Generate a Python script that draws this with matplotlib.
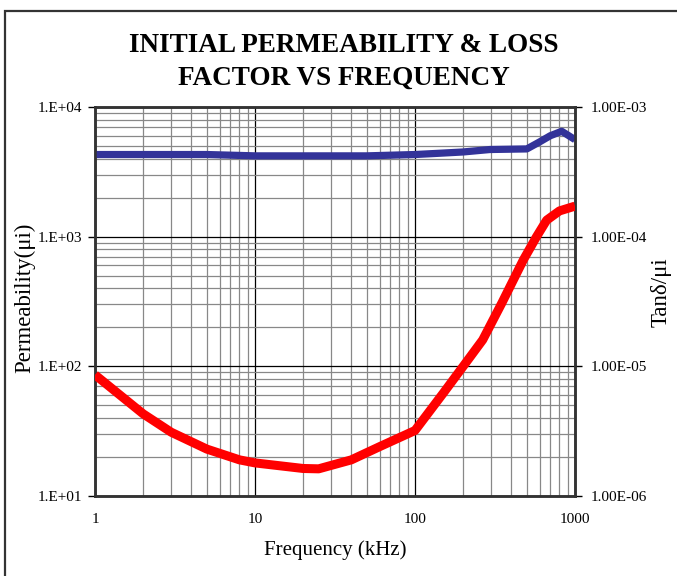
import matplotlib
matplotlib.use("Agg")
import matplotlib.pyplot as plt
from matplotlib.ticker import LogLocator, NullFormatter
from matplotlib.patches import Rectangle
import numpy as np

plt.rcParams['font.family'] = ['Liberation Serif', 'DejaVu Serif']

# Permeability (left axis)
perm_freq = [1, 3, 5, 10, 20, 50, 100, 143, 200, 294, 500, 604, 700, 826, 1000]
perm_vals = [4300, 4300, 4300, 4200, 4200, 4200, 4300, 4400, 4500, 4700, 4750, 5400, 6000, 6500, 5600]

# Tan delta / mu_i (right axis)
loss_freq = [1, 2, 3, 5, 8, 10, 20, 25, 40, 60, 100, 150, 200, 265, 350, 475, 575, 665, 800, 1000]
loss_vals = [8.6e-6, 4.3e-6, 3.1e-6, 2.3e-6, 1.9e-6, 1.8e-6, 1.63e-6, 1.62e-6, 1.9e-6, 2.4e-6,
             3.2e-6, 6.2e-6, 1.0e-5, 1.6e-5, 3.1e-5, 6.6e-5, 1.0e-4, 1.34e-4, 1.58e-4, 1.72e-4]

x_ticks = [1, 10, 100, 1000]
x_tick_labels = ["1", "10", "100", "1000"]
left_ticks = [1e1, 1e2, 1e3, 1e4]
left_tick_labels = ["1.E+01", "1.E+02", "1.E+03", "1.E+04"]
right_ticks = [1e-6, 1e-5, 1e-4, 1e-3]
right_tick_labels = ["1.00E-06", "1.00E-05", "1.00E-04", "1.00E-03"]

W, H = 677, 576
fig = plt.figure(figsize=(W/100, H/100), dpi=100)
ax = fig.add_axes([95/W, 1-496/H, 480/W, 389/H])
ax2 = ax.twinx()

ax.set_xscale('log'); ax.set_yscale('log'); ax2.set_yscale('log')
ax.set_xlim(1, 1000); ax.set_ylim(10, 10000); ax2.set_ylim(1e-6, 1e-3)

subs = np.arange(2, 10)
ax.xaxis.set_minor_locator(LogLocator(base=10, subs=subs))
ax.yaxis.set_minor_locator(LogLocator(base=10, subs=subs))
ax2.yaxis.set_minor_locator(LogLocator(base=10, subs=subs))
ax.xaxis.set_minor_formatter(NullFormatter())
ax.yaxis.set_minor_formatter(NullFormatter())
ax2.yaxis.set_minor_formatter(NullFormatter())

ax.set_xticks(x_ticks); ax.set_xticklabels(x_tick_labels)
ax.set_yticks(left_ticks); ax.set_yticklabels(left_tick_labels)
ax2.set_yticks(right_ticks); ax2.set_yticklabels(right_tick_labels)

ax.grid(which='minor', color='#888888', linewidth=0.9)
ax.grid(which='major', color='#000000', linewidth=0.9)
ax.set_axisbelow(True)

ax.tick_params(which='minor', length=0)
ax2.tick_params(which='minor', length=0)
ax.tick_params(axis='x', which='major', length=0, pad=12, labelsize=11)
ax.tick_params(axis='y', which='major', length=5, width=1, direction='out', pad=4, labelsize=11)
ax2.tick_params(axis='y', which='major', length=5, width=1, direction='out', pad=6, labelsize=11)

for a in (ax, ax2):
    for s in a.spines.values():
        s.set_color('#333333'); s.set_linewidth(1.8)

ax.plot(perm_freq, perm_vals, color='#333399', linewidth=5.2, solid_capstyle='butt', solid_joinstyle='round', zorder=3)
ax2.plot(loss_freq, loss_vals, color='#FF0000', linewidth=6.5, solid_capstyle='butt', solid_joinstyle='round', zorder=3)

fig.text(335/W, 1-550/H, 'Frequency (kHz)', ha='center', va='center', fontsize=15)
fig.text(25/W, 1-298/H, 'Permeability(μi)', ha='center', va='center', fontsize=16.5, rotation=90)
fig.text(661/W, 1-292/H, 'Tanδ/μi', ha='center', va='center', fontsize=16.5, rotation=90)

fig.text(344/W, 1-45/H, 'INITIAL PERMEABILITY & LOSS', ha='center', va='center', fontsize=19.5, fontweight='bold')
fig.text(344/W, 1-78/H, 'FACTOR VS FREQUENCY', ha='center', va='center', fontsize=19.5, fontweight='bold')

fig.patches.append(Rectangle((5.5/W, -0.1), 1.2, 1-10.5/H+0.1, transform=fig.transFigure,
                             fill=False, edgecolor='#333333', linewidth=1.6))

fig.savefig('out.png', dpi=100)
